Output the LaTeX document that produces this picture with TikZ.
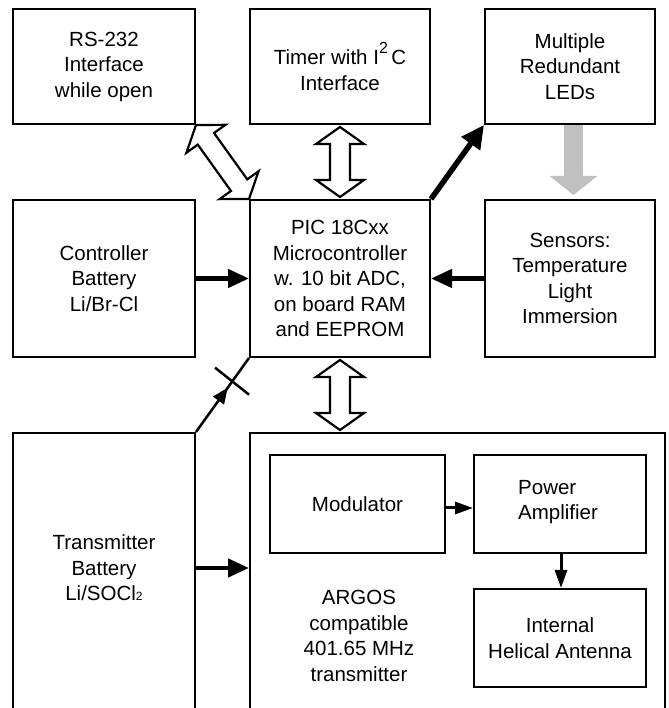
\documentclass[tikz,border=0pt]{standalone}
\usepackage{fontspec}
\setmainfont{Liberation Sans}
\usetikzlibrary{arrows.meta,calc}
\newcommand{\hollowdouble}[2]{%
  \coordinate (hdA) at ($(#1)!17pt!(#2)$);
  \coordinate (hdB) at ($(#2)!17pt!(#1)$);
  \draw[hollowarrow] (#1) -- ($(hdA)!24pt!90:(#2)$) -- ($(hdA)!10pt!90:(#2)$)
    -- ($(hdB)!10pt!-90:(#1)$) -- ($(hdB)!24pt!-90:(#1)$) -- (#2)
    -- ($(hdB)!24pt!90:(#1)$) -- ($(hdB)!10pt!90:(#1)$)
    -- ($(hdA)!10pt!-90:(#2)$) -- ($(hdA)!24pt!-90:(#2)$) -- cycle;}
\begin{document}
\begin{tikzpicture}[x=1pt,y=1pt,
  box/.style={draw, line width=2pt, inner sep=0pt, align=center,
              font=\fontsize{20.5}{25.5}\selectfont},
  lbl/.style={inner sep=0pt, align=center, font=\fontsize{20.5}{25.5}\selectfont},
  hollowarrow/.style={line width=2.2pt, fill=white, line join=miter},
  bigarrow/.style={line width=4.5pt, -{Triangle[length=21pt,width=18pt]}},
  ledarrow/.style={line width=5.5pt, -{Triangle[length=23pt,width=22pt]}},
  smallarrow/.style={line width=3pt, -{Triangle[length=18pt,width=12pt]}},
  thinarrow/.style={line width=2.5pt, -{Triangle[length=16pt,width=13pt]}},
  greyarrow/.style={line width=19pt, draw={rgb,255:red,192;green,192;blue,192},
                    -{Triangle[length=19pt,width=47pt]}}
]
\clip (0,0) rectangle (668,708);
\fill[white] (0,0) rectangle (668,708);

% top row
\node[box, minimum width=182pt, minimum height=115pt] (rs) at (104,641.5)
  {RS-232\\Interface\\while open};
\node[box, minimum width=180pt, minimum height=115pt] (timer) at (340,641.5)
  {Timer with I\raisebox{11pt}{\fontsize{16}{16}\selectfont 2}\,C\\Interface};
\node[box, minimum width=170pt, minimum height=115pt] (leds) at (570,641.5)
  {Multiple\\Redundant\\LEDs};

% middle row
\node[box, minimum width=182pt, minimum height=157pt] (ctrl) at (104,429.5)
  {Controller\\Battery\\Li/Br-Cl};
\node[box, minimum width=180pt, minimum height=157pt] (pic) at (340,429.5)
  {PIC 18Cxx\\Microcontroller\\w. 10 bit ADC,\\on board RAM\\and EEPROM};
\node[box, minimum width=170pt, minimum height=157pt] (sens) at (570,429.5)
  {Sensors:\\Temperature\\Light\\Immersion};

% bottom row (boxes run past the lower edge)
\node[box, minimum width=182pt, minimum height=300pt, anchor=north] (trans) at (104,276) {};
\node[lbl] (transtxt) at (104,140) {Transmitter\\Battery\\Li/SOCl{\fontsize{12}{12}\selectfont 2}};
\node[box, minimum width=415pt, minimum height=300pt, anchor=north] (argos) at (457.5,276) {};
\node[lbl] (argostxt) at (359,72) {ARGOS\\compatible\\401.65 MHz\\transmitter};

\node[box, minimum width=175pt, minimum height=98pt] (mod) at (357.5,204) {Modulator};
\node[box, minimum width=172pt, minimum height=98pt] (pa) at (560,204) {};
\node[lbl, align=left, anchor=west] (patxt) at (518,206) {Power\\Amplifier};
\node[box, minimum width=172pt, minimum height=98pt] (ant) at (560,70)
  {Internal\\Helical Antenna};

% hollow double arrows
\hollowdouble{rs.south east}{pic.north west}
\coordinate (t1) at ($(timer.south)+(0,-2)$);
\coordinate (t2) at ($(pic.north)+(0,2)$);
\hollowdouble{t1}{t2}
\coordinate (p1) at ($(pic.south)+(0,-2)$);
\coordinate (p2) at ($(pic.south |- argos.north)+(0,2)$);
\hollowdouble{p1}{p2}

% solid arrows
\draw[ledarrow] (pic.north east) -- (leds.south west);
\coordinate (g1) at ($(leds.south)+(3.5,0)$);
\coordinate (g2) at ($(sens.north)+(3.5,4)$);
\draw[greyarrow] (g1) -- (g2);
\draw[bigarrow] (ctrl.east) -- (pic.west);
\draw[bigarrow] (sens.west) -- (pic.east);
\draw[bigarrow] (transtxt -| trans.east) -- (transtxt -| argos.west);
\draw[smallarrow] ($(mod.east)+(0,-4)$) -- ($(pa.west)+(0,-4)$);
\draw[smallarrow] ($(pa.south)+(1,0)$) -- ($(ant.north)+(1,0)$);

% battery link with break mark
\coordinate (m1) at ($(trans.north east)!0.6!(pic.south west)$);
\coordinate (m2) at ($(trans.north east)!0.68!(pic.south west)$);
\draw[thinarrow] (trans.north east) -- (m1);
\draw[line width=2.5pt] ($(trans.north east)!0.55!(pic.south west)$) -- (pic.south west);
\draw[line width=2.5pt] ($(m2)+(-17,14)$) -- ($(m2)+(17,-13)$);
\end{tikzpicture}
\end{document}
